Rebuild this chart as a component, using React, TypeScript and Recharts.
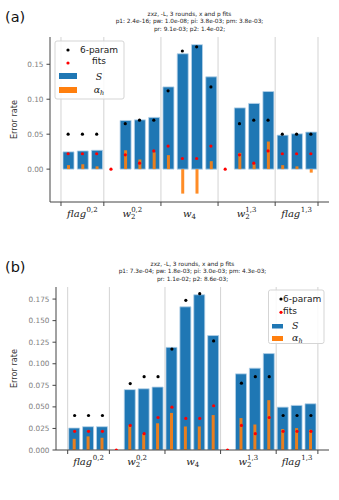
import React from 'react';
import { ComposedChart, Bar, Scatter, XAxis, YAxis, ReferenceLine } from 'recharts';

// bar slots along the x axis (3 and 11 are the empty spacer slots)
const SLOTS = [0, 1, 2, 3, 4, 5, 6, 7, 8, 9, 10, 11, 12, 13, 14, 15, 16, 17];
const BOUNDARIES = [-0.5, 2.5, 6.5, 10.5, 14.5, 17.5];
const GROUP_POS = [1, 4.5, 8.5, 12.5, 16];
const GROUP_BASE = ['flag', 'w', 'w', 'w', 'flag'];
const GROUP_SUB = ['', '2', '4', '2', ''];
const GROUP_SUP = ['0,2', '0,2', '', '1,3', '1,3'];

// panel (a)
const S_A = [0.0247, 0.026, 0.027, null, 0.0696, 0.0705, 0.074, 0.1176, 0.165, 0.178, 0.132, null, 0.0876, 0.094, 0.111, 0.0486, 0.0505, 0.053];
const ALPHA_A = [0.0057, 0.007, 0.004, null, 0.027, 0.0138, 0.024, 0.02, -0.035, -0.035, 0.0114, null, 0.0233, 0.007, 0.0395, 0.0057, 0.004, -0.005];
const SIX_A = [0.05, 0.05, 0.05, null, 0.065, 0.07, 0.07, 0.112, 0.169, 0.175, 0.1176, null, 0.065, 0.07, 0.07, 0.05, 0.05, 0.05];
const FITS_A = [0.022, 0.022, 0.022, 0, 0.0205, 0.0086, 0.026, 0.033, 0.0152, 0.0152, 0.033, 0, 0.0205, 0.0086, 0.026, 0.022, 0.022, 0.022];
const YTICKS_A = [0, 0.05, 0.1, 0.15];
const TITLE_A = ['zxz, -L, 3 rounds, x and p fits', 'p1: 2.4e-16; pw: 1.0e-08; pi: 3.8e-03; pm: 3.8e-03;', 'pr: 9.1e-03; p2: 1.4e-02;'];

// panel (b)
const S_B = [0.0255, 0.027, 0.027, null, 0.07, 0.071, 0.073, 0.119, 0.166, 0.18, 0.1327, null, 0.0883, 0.0949, 0.1118, 0.0497, 0.0517, 0.0536];
const ALPHA_B = [0.013, 0.0158, 0.0142, null, 0.029, 0.0185, 0.031, 0.043, 0.0273, 0.0273, 0.0405, null, 0.037, 0.0297, 0.0578, 0.0243, 0.0254, 0.0235];
const SIX_B = [0.04, 0.04, 0.04, null, 0.077, 0.085, 0.085, 0.117, 0.1736, 0.1813, 0.1265, null, 0.0775, 0.085, 0.085, 0.04, 0.04, 0.04];
const FITS_B = [0.0216, 0.0216, 0.0216, 0, 0.0285, 0.0189, 0.0377, 0.0497, 0.0366, 0.0366, 0.0513, 0, 0.0285, 0.0189, 0.0377, 0.0216, 0.0216, 0.0216];
const YTICKS_B = [0, 0.025, 0.05, 0.075, 0.1, 0.125, 0.15, 0.175];
const TITLE_B = ['zxz, -L, 3 rounds, x and p fits', 'p1: 7.3e-04; pw: 1.8e-03; pi: 3.0e-03; pm: 4.3e-03;', 'pr: 1.1e-02; p2: 8.6e-03;'];

const BLUE = '#1f77b4';
const ORANGE = '#ff7f0e';
const SPINE = '#444';
const SANS = 'DejaVu Sans';
const SERIF = 'DejaVu Serif';

function GroupTick(props: any) {
  const { x, y, payload } = props;
  const i = GROUP_POS.indexOf(payload.value);
  if (i < 0) {
    return <line x1={x} x2={x} y1={y - 4} y2={y} stroke={SPINE} strokeWidth={1} />;
  }
  const sub = GROUP_SUB[i];
  const sup = GROUP_SUP[i];
  return (
    <text x={x} y={y + 10.5} textAnchor="middle" fontFamily={SERIF} fontSize={10} fill="#222">
      <tspan fontStyle="italic">{GROUP_BASE[i]}</tspan>
      {sub && <tspan fontSize={7} dy={2.5}>{sub}</tspan>}
      {sup && (
        <tspan fontSize={7} dx={sub ? -4.4 : 0.5} dy={sub ? -7.5 : -4.5}>
          {sup}
        </tspan>
      )}
    </text>
  );
}

const dot = (color: string) => (p: any) =>
  p.cx == null ? <g /> : <circle cx={p.cx} cy={p.cy} r={1.6} fill={color} />;

function LegendA() {
  return (
    <svg width={339} height={250} style={{ position: 'absolute', left: 0, top: 0, pointerEvents: 'none' }}>
      <rect x={55} y={41} width={69} height={58} rx={2} fill="#fff" fillOpacity={0.85} stroke="#d5d5d5" />
      <circle cx={68} cy={50} r={1.6} fill="#000" />
      <circle cx={68} cy={63} r={1.6} fill="red" />
      <text x={99} y={53} textAnchor="middle" fontFamily={SANS} fontSize={9} fill="#222">6-param</text>
      <text x={99} y={63.5} textAnchor="middle" fontFamily={SANS} fontSize={9} fill="#222">fits</text>
      <rect x={59} y={73} width={18} height={6} fill={BLUE} />
      <text x={99} y={80} textAnchor="middle" fontFamily={SERIF} fontStyle="italic" fontSize={9.5} fill="#222">S</text>
      <rect x={59} y={87} width={18} height={6} fill={ORANGE} />
      <text x={99} y={93} textAnchor="middle" fontFamily={SERIF} fontSize={9.5} fill="#222">
        <tspan fontStyle="italic">α</tspan>
        <tspan fontStyle="italic" fontSize={6.5} dy={2}>h</tspan>
      </text>
    </svg>
  );
}

function LegendB() {
  return (
    <svg width={339} height={250} style={{ position: 'absolute', left: 0, top: 0, pointerEvents: 'none' }}>
      <rect x={268.5} y={40} width={55.5} height={53.5} rx={2} fill="#fff" fillOpacity={0.85} stroke="#d5d5d5" />
      <circle cx={281} cy={49} r={1.6} fill="#000" />
      <circle cx={281} cy={62.3} r={1.6} fill="red" />
      <text x={283} y={52.3} fontFamily={SANS} fontSize={9} fill="#222">6-param</text>
      <text x={283} y={64} fontFamily={SANS} fontSize={9} fill="#222">fits</text>
      <rect x={272} y={74} width={11} height={4.5} fill={BLUE} />
      <text x={292} y={79} fontFamily={SERIF} fontStyle="italic" fontSize={9.5} fill="#222">S</text>
      <rect x={272} y={86} width={11} height={5} fill={ORANGE} />
      <text x={292} y={91} fontFamily={SERIF} fontSize={9.5} fill="#222">
        <tspan fontStyle="italic">α</tspan>
        <tspan fontStyle="italic" fontSize={6.5} dy={2}>h</tspan>
      </text>
    </svg>
  );
}

interface PanelProps {
  tag: string;
  title: string[];
  s: (number | null)[];
  alpha: (number | null)[];
  six: (number | null)[];
  fits: (number | null)[];
  yDomain: [number, number];
  yTicks: number[];
  yDigits: number;
  yWidth: number;
  xDomain: [number, number];
  legend: React.ReactNode;
}

function Panel(p: PanelProps) {
  const rows = SLOTS.map((x, i) => ({ x, S: p.s[i], alpha: p.alpha[i] }));
  const sixPts = SLOTS.map((x, i) => ({ x, y: p.six[i] })).filter((d) => d.y != null);
  const fitPts = SLOTS.map((x, i) => ({ x, y: p.fits[i] })).filter((d) => d.y != null);
  const plotCenter = (p.yWidth + 329) / 2;
  return (
    <div style={{ position: 'relative', width: 339, height: 250 }}>
      <div style={{ position: 'absolute', left: 5, top: 9, fontFamily: SANS, fontSize: 14.5, color: '#111' }}>{p.tag}</div>
      {p.title.map((t, i) => (
        <div
          key={i}
          style={{
            position: 'absolute',
            left: plotCenter - 120,
            width: 240,
            top: 10.5 + i * 7.9,
            textAlign: 'center',
            fontFamily: SANS,
            fontSize: 5.8,
            lineHeight: '7px',
            color: '#222',
          }}
        >
          {t}
        </div>
      ))}
      <ComposedChart width={339} height={250} data={rows} margin={{ top: 37, right: 10, bottom: 20, left: 0 }}>
        <XAxis
          xAxisId="g"
          type="number"
          dataKey="x"
          domain={p.xDomain}
          allowDataOverflow
          ticks={[...BOUNDARIES, ...GROUP_POS]}
          interval={0}
          tick={<GroupTick />}
          tickLine={false}
          tickSize={4}
          tickMargin={0}
          height={p.yDigits === 2 ? 28 : 30}
          stroke={SPINE}
        />
        <XAxis xAxisId="s" type="number" dataKey="x" domain={p.xDomain} allowDataOverflow ticks={SLOTS} hide />
        <XAxis xAxisId="h" type="number" dataKey="x" domain={p.xDomain} allowDataOverflow ticks={SLOTS} hide />
        <XAxis xAxisId="top" orientation="top" type="number" dataKey="x" domain={p.xDomain} height={0} tick={false} tickLine={false} stroke={SPINE} />
        <YAxis
          type="number"
          domain={p.yDomain}
          allowDataOverflow
          ticks={p.yTicks}
          interval={0}
          width={p.yWidth}
          tickSize={3.5}
          tickMargin={3}
          tickFormatter={(v: number) => v.toFixed(p.yDigits)}
          tick={{ fill: '#808080', fontSize: 7.3, fontFamily: SANS }}
          stroke={SPINE}
          label={{
            content: (lp: any) => {
              const vb = lp.viewBox;
              const cx = 14;
              const cy = vb.y + vb.height / 2;
              return (
                <text x={cx} y={cy} transform={`rotate(-90 ${cx} ${cy})`} textAnchor="middle" dominantBaseline="central" fontFamily={SANS} fontSize={8.2} fill="#333">
                  Error rate
                </text>
              );
            },
          }}
        />
        <YAxis yAxisId="r" orientation="right" domain={p.yDomain} width={0} tick={false} tickLine={false} stroke={SPINE} />
        {BOUNDARIES.map((b) => (
          <ReferenceLine key={b} xAxisId="g" x={b} stroke="#d3d3d3" strokeWidth={1} />
        ))}
        <Bar xAxisId="s" dataKey="S" barSize={11} fill={BLUE} stroke="#b5d2e8" strokeWidth={0.8} isAnimationActive={false} />
        <Bar xAxisId="h" dataKey="alpha" barSize={3} fill={ORANGE} fillOpacity={0.9} isAnimationActive={false} />
        <Scatter xAxisId="g" data={sixPts} dataKey="y" shape={dot('#000')} isAnimationActive={false} />
        <Scatter xAxisId="g" data={fitPts} dataKey="y" shape={dot('red')} isAnimationActive={false} />
      </ComposedChart>
      {p.legend}
    </div>
  );
}

export default function App() {
  return (
    <div style={{ position: 'absolute', left: 0, top: 0, width: 339, height: 500, background: '#fff' }}>
      <Panel
        tag="(a)"
        title={TITLE_A}
        s={S_A}
        alpha={ALPHA_A}
        six={SIX_A}
        fits={FITS_A}
        yDomain={[-0.047, 0.189]}
        yTicks={YTICKS_A}
        yDigits={2}
        yWidth={50}
        xDomain={[-1.27, 18.27]}
        legend={<LegendA />}
      />
      <Panel
        tag="(b)"
        title={TITLE_B}
        s={S_B}
        alpha={ALPHA_B}
        six={SIX_B}
        fits={FITS_B}
        yDomain={[0, 0.189]}
        yTicks={YTICKS_B}
        yDigits={3}
        yWidth={56}
        xDomain={[-1.34, 18.3]}
        legend={<LegendB />}
      />
    </div>
  );
}
